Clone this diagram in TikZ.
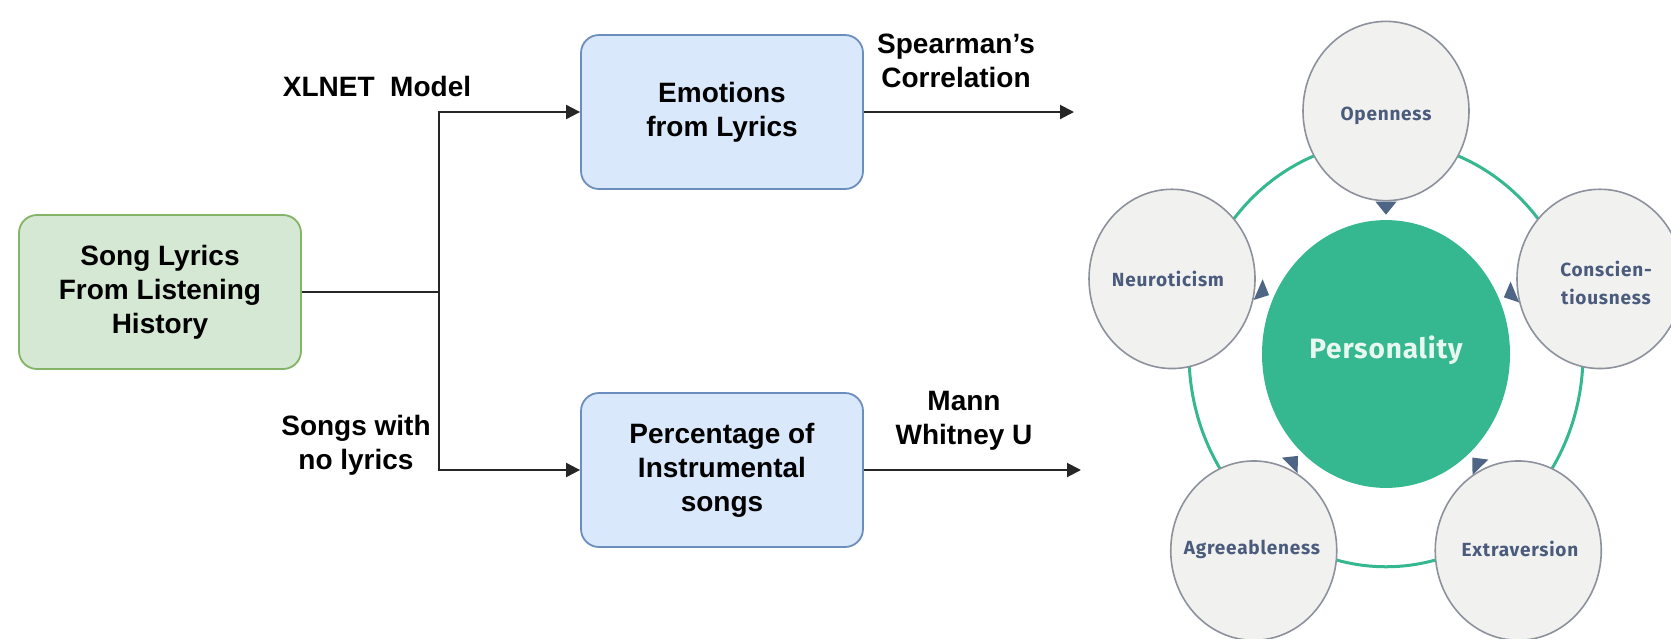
\documentclass[tikz,border=0pt]{standalone}
\usepackage{fontspec}
\setmainfont{Liberation Sans}
\newfontfamily\lblfont[LetterSpace=4]{Fira Sans}
\newfontfamily\persfont[LetterSpace=3]{Fira Sans}
\usetikzlibrary{arrows.meta}
\definecolor{gfill}{HTML}{D5E8D4}
\definecolor{gline}{HTML}{82B366}
\definecolor{bfill}{HTML}{DAE8FC}
\definecolor{bline}{HTML}{6C8EBF}
\definecolor{tealc}{HTML}{35B88F}
\definecolor{cfill}{HTML}{F1F1F0}
\definecolor{cline}{HTML}{8C919C}
\definecolor{lblc}{HTML}{4A5B7C}
\definecolor{tric}{HTML}{4F6586}
\definecolor{perstext}{HTML}{E8F8F0}
\begin{document}
\begin{tikzpicture}[x=0.5pt,y=-0.5pt,
  box/.style={draw, line width=0.9pt, rounded corners=9pt, minimum width=141pt, minimum height=77pt, align=center, font=\fontsize{14}{17}\selectfont\bfseries, inner sep=0pt},
  greenbox/.style={box, fill=gfill, draw=gline},
  bluebox/.style={box, fill=bfill, draw=bline},
  conn/.style={draw=black!85, line width=1pt},
  arr/.style={conn, -{Triangle[length=7pt,width=7pt]}},
  lab/.style={align=center, font=\fontsize{14}{17}\selectfont\bfseries, inner sep=0pt},
  outerlbl/.style={align=center, text=lblc, font=\lblfont\fontsize{9.5}{14}\selectfont\bfseries, inner sep=0pt},
]
\useasboundingbox (0,0) rectangle (1671,638);
\clip (0,0) rectangle (1671,638);

% left flow
\node[greenbox] (src) at (160,292) {Song Lyrics\\From Listening\\History};
\node[bluebox] (emo) at (722,112) {Emotions\\from Lyrics};
\node[bluebox] (pct) at (722,470) {Percentage of\\Instrumental\\songs};
\coordinate (j) at (439,292);
\coordinate (e1) at (1074,112);
\coordinate (e2) at (1081,470);
\draw[conn] (src.east) -- (j);
\draw[arr] (j) |- (emo.west);
\draw[arr] (j) |- (pct.west);
\draw[arr] (emo.east) -- (e1);
\draw[arr] (pct.east) -- (e2);

\node[lab] (xl) at (377,86) {XLNET\ \ Model};
\node[lab] (sw) at (356,445) {Songs with\\no lyrics};
\node[lab] (sp) at (956,61) {Spearman's\\Correlation};
\node[lab] (mw) at (964,421) {Mann\\Whitney U};

% personality wheel
\begin{scope}[shift={(1386,354)}, yscale=1.08]
  \draw[tealc, line width=1.5pt] (0,0) circle[radius=197];
  \fill[tealc] (0,0) circle[radius=124];
  \foreach \a in {-90,-18,54,126,198}{
    \filldraw[fill=cfill, draw=cline, line width=0.8pt] (\a:225) circle[radius=83];
  }
  \foreach \b in {-90,-24,48,133,205}{
    \fill[tric] (\b-4.3:141.5) -- (\b:129) -- (\b+4.3:141.5) -- cycle;
  }
\end{scope}
\node[text=perstext, font=\persfont\fontsize{14}{16}\selectfont\bfseries, inner sep=0pt] (pers) at (1386,350) {Personality};
\node[outerlbl] (op) at (1386,116) {Openness};
\node[outerlbl] (co) at (1606,283) {Conscien-\\tiousness};
\node[outerlbl] (ex) at (1520,549) {Extraversion};
\node[outerlbl] (ag) at (1252,549) {Agreeableness};
\node[outerlbl] (ne) at (1168,279) {Neuroticism};
\end{tikzpicture}
\end{document}
